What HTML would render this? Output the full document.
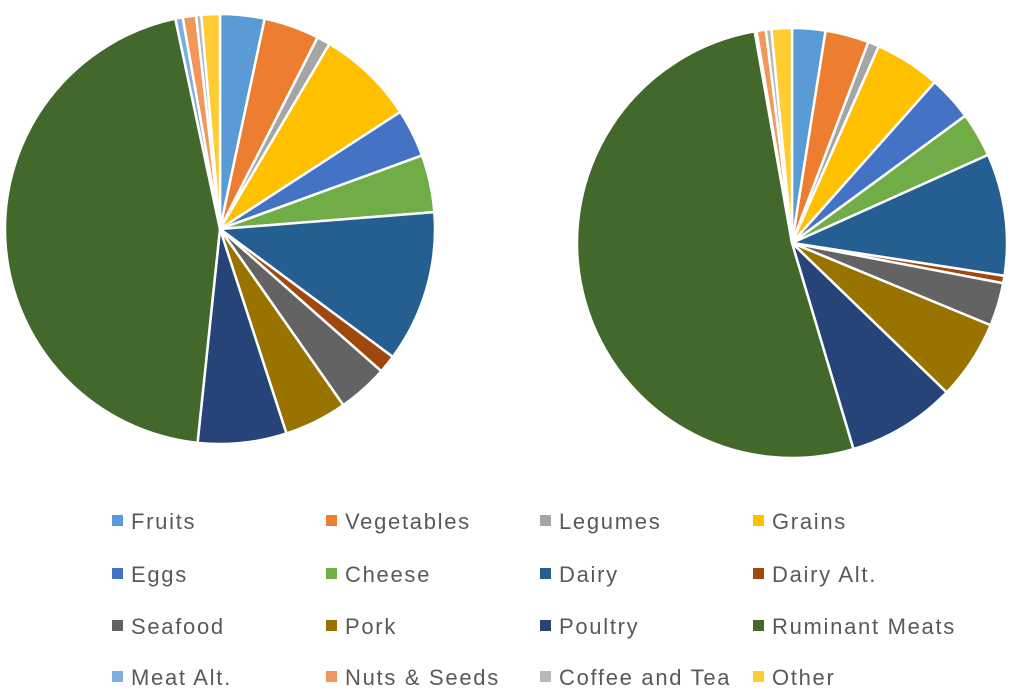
<!DOCTYPE html>
<html><head><meta charset="utf-8"><style>
html,body{margin:0;padding:0;background:#fff;width:1024px;height:698px;overflow:hidden}
svg{display:block}
text{font-family:"Liberation Sans",sans-serif;font-size:22px;fill:#595959;letter-spacing:1.7px}
</style></head><body>
<svg id="s" width="1024" height="698" viewBox="0 0 1024 698"></svg>
<script>
const C=["#5B9BD5","#ED7D31","#A5A5A5","#FFC000","#4472C4","#70AD47","#255E91","#9E480E","#636363","#997300","#264478","#43682B","#7CAFDD","#F1975A","#B7B7B7","#FFCD33"];
const N=["Fruits","Vegetables","Legumes","Grains","Eggs","Cheese","Dairy","Dairy Alt.","Seafood","Pork","Poultry","Ruminant Meats","Meat Alt.","Nuts & Seeds","Coffee and Tea","Other"];
const L=[12,27,30.6,57,70,85.5,126.5,131.4,145,162,186,348,350,353.6,355,360];
const R=[9,20.8,23.8,41.6,53.7,65.8,98.8,100.8,112.5,134,163.4,350,350.5,353,354.5,360];
const s=document.getElementById('s');let h='';
function pie(cx,cy,r,b){let a0=0;b.forEach((a1,i)=>{const p=a=>[cx+r*Math.sin(a*Math.PI/180),cy-r*Math.cos(a*Math.PI/180)];const[x0,y0]=p(a0),[x1,y1]=p(a1);h+=`<path d="M${cx},${cy}L${x0},${y0}A${r},${r} 0 ${a1-a0>180?1:0} 1 ${x1},${y1}Z" fill="${C[i]}" stroke="#fff" stroke-width="2.5" stroke-linejoin="round"/>`;a0=a1;});}
pie(220,229,215,L);pie(792,243,215,R);
const xs=[112,326,540,753],ys=[521,574,626,677];
N.forEach((n,i)=>{const x=xs[i%4],y=ys[Math.floor(i/4)];h+=`<rect x="${x}" y="${y-6}" width="11" height="11" fill="${C[i]}"/><text x="${x+19}" y="${y+8}">${n.replace('&','&amp;')}</text>`;});
s.innerHTML=h;
</script>
</body></html>
